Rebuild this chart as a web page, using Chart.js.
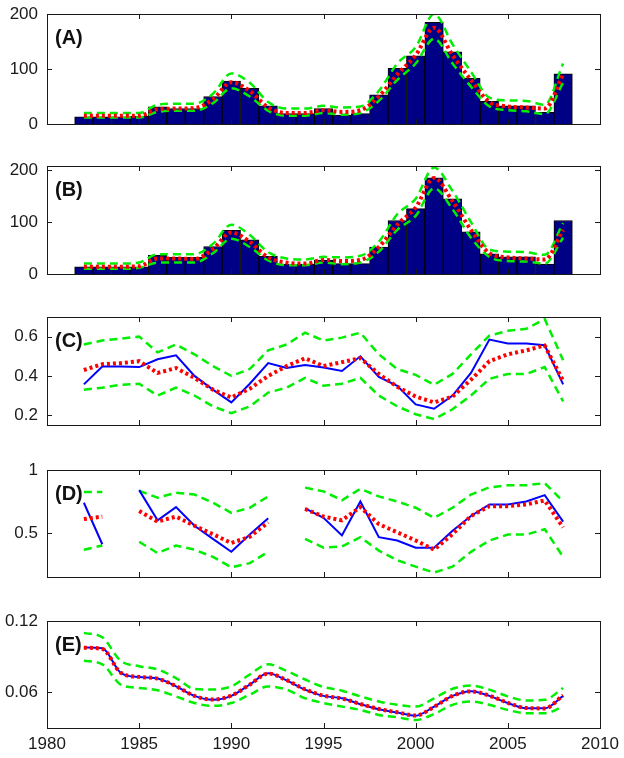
<!DOCTYPE html>
<html>
<head>
<meta charset="utf-8">
<title>Panels A-E, 1982-2008</title>
<script src="https://cdn.jsdelivr.net/npm/chart.js@4.4.0/dist/chart.umd.min.js"></script>
<style>
  html, body { margin: 0; padding: 0; background: #fff; }
  #wrap { position: relative; width: 624px; height: 758px; overflow: hidden; }
  #wrap canvas { position: absolute; left: 0; }
</style>
</head>
<body>
<div id="wrap">
  <canvas id="panelA" width="624" height="134" style="top:2px"></canvas>
  <canvas id="panelB" width="624" height="132" style="top:154px"></canvas>
  <canvas id="panelC" width="624" height="132" style="top:305px"></canvas>
  <canvas id="panelD" width="624" height="131" style="top:458px"></canvas>
  <canvas id="panelE" width="624" height="149" style="top:609px"></canvas>
</div>
<script>
// --- data ---
const years = [1982, 1983, 1984, 1985, 1986, 1987, 1988, 1989, 1990, 1991, 1992, 1993, 1994,
               1995, 1996, 1997, 1998, 1999, 2000, 2001, 2002, 2003, 2004, 2005, 2006, 2007, 2008];
const xTicks = [1980, 1985, 1990, 1995, 2000, 2005, 2010];
const xTickLabels = ['1980', '1985', '1990', '1995', '2000', '2005', '2010'];

// (A) observed counts (bars), fit (red dotted), bounds (green dashed)
const countsA = [13, 13, 13, 14, 31, 28, 28, 50, 78, 65, 33, 19, 19, 28, 16, 19, 53, 101, 124, 185, 131, 83, 41, 33, 33, 21, 91];
const fitA    = [15, 15, 15, 15, 27, 28, 29, 45, 76, 60, 30, 20, 20, 25, 22, 25, 50, 90, 125, 175, 125, 80, 40, 32, 30, 28, 90];
const upperA  = [20, 20, 20, 20, 35, 37, 37, 55, 92, 75, 40, 28, 28, 33, 30, 32, 60, 110, 140, 200, 145, 95, 48, 43, 42, 35, 110];
const lowerA  = [12, 12, 12, 12, 22, 24, 24, 38, 65, 50, 24, 15, 15, 20, 17, 20, 42, 80, 110, 155, 110, 68, 32, 25, 23, 18, 75];
const yTicksA = [0, 100, 200];
const yLabelsA = ['0', '100', '200'];

// (B)
const countsB = [14, 14, 14, 14, 36, 32, 32, 53, 84, 66, 34, 19, 19, 27, 20, 20, 52, 103, 126, 185, 145, 81, 39, 33, 33, 19, 103];
const fitB    = [14, 14, 14, 15, 30, 30, 29, 48, 80, 62, 32, 22, 20, 27, 25, 27, 52, 95, 128, 185, 140, 85, 40, 32, 30, 28, 85];
const upperB  = [20, 20, 20, 22, 38, 38, 38, 58, 95, 75, 42, 30, 28, 33, 32, 35, 62, 115, 145, 205, 160, 100, 47, 43, 42, 37, 98];
const lowerB  = [10, 10, 10, 12, 22, 22, 22, 40, 68, 52, 26, 17, 17, 22, 19, 22, 43, 85, 112, 165, 125, 70, 33, 25, 24, 20, 70];
const yTicksB = [0, 100, 200];
const yLabelsB = ['0', '100', '200'];

// (C) blue = observed, red = fit
const blueC  = [0.357, 0.448, 0.448, 0.445, 0.485, 0.505, 0.40, 0.33, 0.265, 0.36, 0.465, 0.44, 0.455, 0.443, 0.425, 0.50, 0.395, 0.35, 0.255, 0.233, 0.30, 0.415, 0.585, 0.565, 0.565, 0.556, 0.357];
const redC   = [0.43, 0.46, 0.465, 0.475, 0.415, 0.44, 0.39, 0.33, 0.29, 0.335, 0.40, 0.45, 0.49, 0.45, 0.47, 0.49, 0.41, 0.345, 0.295, 0.265, 0.295, 0.38, 0.475, 0.51, 0.53, 0.555, 0.375];
const upperC = [0.56, 0.58, 0.59, 0.60, 0.52, 0.56, 0.51, 0.45, 0.40, 0.435, 0.53, 0.56, 0.62, 0.58, 0.595, 0.62, 0.51, 0.435, 0.405, 0.355, 0.41, 0.51, 0.605, 0.63, 0.64, 0.69, 0.48];
const lowerC = [0.33, 0.34, 0.355, 0.36, 0.30, 0.34, 0.30, 0.245, 0.21, 0.245, 0.315, 0.34, 0.39, 0.35, 0.36, 0.39, 0.30, 0.245, 0.205, 0.18, 0.23, 0.30, 0.385, 0.41, 0.41, 0.445, 0.27];
const yTicksC = [0.2, 0.4, 0.6];
const yLabelsC = ['0.2', '0.4', '0.6'];

// (D) gaps in 1984 and 1993
const blueD  = [0.74, 0.41, null, 0.84, 0.60, 0.705, 0.557, 0.453, 0.35, 0.487, 0.617, null, 0.695, 0.62, 0.48, 0.75, 0.466, 0.44, 0.383, 0.383, 0.518, 0.635, 0.726, 0.726, 0.75, 0.80, 0.59];
const redD   = [0.61, 0.63, null, 0.675, 0.59, 0.63, 0.557, 0.49, 0.42, 0.47, 0.583, null, 0.69, 0.63, 0.60, 0.705, 0.57, 0.505, 0.44, 0.367, 0.49, 0.635, 0.713, 0.713, 0.727, 0.758, 0.544];
const upperD = [0.825, 0.825, null, 0.835, 0.78, 0.82, 0.805, 0.74, 0.66, 0.70, 0.79, null, 0.86, 0.83, 0.76, 0.85, 0.79, 0.75, 0.70, 0.62, 0.70, 0.805, 0.862, 0.878, 0.878, 0.896, 0.75];
const lowerD = [0.367, 0.40, null, 0.43, 0.34, 0.40, 0.367, 0.31, 0.227, 0.26, 0.35, null, 0.453, 0.383, 0.393, 0.466, 0.36, 0.284, 0.232, 0.185, 0.232, 0.35, 0.44, 0.487, 0.487, 0.53, 0.31];
const yTicksD = [0.5, 1];
const yLabelsD = ['0.5', '1'];

// (E)
const blueE  = [0.0978, 0.097, 0.0765, 0.0728, 0.0717, 0.065, 0.057, 0.0537, 0.057, 0.0665, 0.076, 0.070, 0.0623, 0.057, 0.055, 0.050, 0.0458, 0.043, 0.0404, 0.048, 0.057, 0.061, 0.057, 0.051, 0.0466, 0.0466, 0.057];
const redE   = [0.0975, 0.0965, 0.0765, 0.073, 0.0715, 0.0652, 0.057, 0.054, 0.0572, 0.0665, 0.0758, 0.0702, 0.0625, 0.0572, 0.0548, 0.0502, 0.046, 0.0432, 0.0405, 0.0478, 0.057, 0.0608, 0.0572, 0.0512, 0.0468, 0.0465, 0.0575];
const upperE = [0.110, 0.1063, 0.0865, 0.082, 0.0793, 0.072, 0.0628, 0.0623, 0.065, 0.075, 0.0836, 0.078, 0.0708, 0.0645, 0.0614, 0.0566, 0.0523, 0.0495, 0.048, 0.055, 0.063, 0.0657, 0.0623, 0.0566, 0.0532, 0.0537, 0.0637];
const lowerE = [0.0865, 0.0836, 0.0665, 0.0637, 0.0617, 0.0566, 0.051, 0.0486, 0.051, 0.058, 0.065, 0.0623, 0.055, 0.051, 0.048, 0.0452, 0.041, 0.039, 0.0367, 0.0418, 0.0495, 0.0523, 0.0495, 0.0452, 0.0424, 0.0424, 0.048];
const yTicksE = [0.06, 0.12];
const yLabelsE = ['0.06', '0.12'];

Chart.defaults.font.family = '"Liberation Sans", Arial, sans-serif';
Chart.defaults.color = '#1a1a1a';

const pts = arr => years.map((yr, i) => ({ x: yr, y: arr[i] }));

// matlab-style box: frame on all four sides, ticks pointing inward, panel letter
const frameTicks = {
    id: 'frameTicks',
    afterDraw(chart, args, opts) {
        const { ctx, chartArea: a, scales: { x, y } } = chart;
        ctx.save();
        ctx.strokeStyle = '#1a1a1a';
        ctx.lineWidth = 1;
        ctx.beginPath();
        xTicks.forEach(v => {
            const px = Math.round(x.getPixelForValue(v)) + 0.5;
            ctx.moveTo(px, a.top); ctx.lineTo(px, a.top + 5);
            ctx.moveTo(px, a.bottom); ctx.lineTo(px, a.bottom - 5);
        });
        opts.yTicks.forEach(v => {
            const py = Math.round(y.getPixelForValue(v)) + 0.5;
            ctx.moveTo(a.left, py); ctx.lineTo(a.left + 5, py);
            ctx.moveTo(a.right, py); ctx.lineTo(a.right - 5, py);
        });
        ctx.stroke();
        ctx.strokeRect(Math.round(a.left) + 0.5, Math.round(a.top) + 0.5,
                       Math.round(a.right - a.left), Math.round(a.bottom - a.top));
        ctx.fillStyle = '#111';
        ctx.font = 'bold 20px "Liberation Sans", Arial, sans-serif';
        ctx.textBaseline = 'alphabetic';
        ctx.fillText(opts.label, a.left + 8, a.top + 30);
        ctx.restore();
    }
};

function lineSet(arr, kind, smooth) {
    const base = { type: 'line', data: pts(arr), pointRadius: 0, fill: false, spanGaps: false };
    if (smooth) base.cubicInterpolationMode = 'monotone';
    if (kind === 'red') return { ...base, borderColor: '#ff0000', borderWidth: 4, borderDash: [3, 3], order: 0 };
    if (kind === 'blue') return { ...base, borderColor: '#0000ff', borderWidth: 2, order: 1 };
    return { ...base, borderColor: '#00ee00', borderWidth: 2.5, borderDash: [8, 5], order: 2 };
}

function makePanel(id, cfg) {
    const showX = !!cfg.showX;
    return new Chart(document.getElementById(id), {
        type: cfg.bars ? 'bar' : 'line',
        data: { datasets: cfg.datasets },
        options: {
            responsive: false,
            animation: false,
            events: [],
            layout: { padding: { top: 12, right: 24, bottom: showX ? 0 : 12, left: 0 } },
            plugins: {
                legend: { display: false },
                tooltip: { enabled: false },
                frameTicks: { label: cfg.label, yTicks: cfg.yTicks }
            },
            scales: {
                x: {
                    type: 'linear',
                    min: 1980,
                    max: 2010,
                    offset: false,
                    display: showX,
                    grid: { display: false, drawTicks: false },
                    border: { display: false },
                    afterBuildTicks: s => { s.ticks = xTicks.map(v => ({ value: v })); },
                    afterFit: s => { s.height = showX ? 30 : 0; s.paddingLeft = 0; s.paddingRight = 0; },
                    ticks: {
                        padding: 6,
                        maxRotation: 0,
                        autoSkip: false,
                        font: { size: 17 },
                        callback: (v, i) => xTickLabels[i]
                    }
                },
                y: {
                    type: 'linear',
                    min: cfg.yMin,
                    max: cfg.yMax,
                    grid: { display: false, drawTicks: false },
                    border: { display: false },
                    afterBuildTicks: s => { s.ticks = cfg.yTicks.map(v => ({ value: v })); },
                    afterFit: s => { s.width = 47; s.paddingTop = 0; s.paddingBottom = 0; },
                    ticks: {
                        padding: 9,
                        font: { size: 17 },
                        callback: (v, i) => cfg.yLabels[i]
                    }
                }
            }
        },
        plugins: [frameTicks]
    });
}

function barSet(arr) {
    return {
        type: 'bar',
        data: pts(arr),
        backgroundColor: 'rgb(0, 0, 135)',
        borderColor: '#000',
        borderWidth: 1,
        barPercentage: 1,
        categoryPercentage: 1,
        order: 3
    };
}

makePanel('panelA', {
    label: '(A)', bars: true, yMin: 0, yMax: 200, yTicks: yTicksA, yLabels: yLabelsA,
    datasets: [lineSet(fitA, 'red', true), lineSet(upperA, 'green', true), lineSet(lowerA, 'green', true), barSet(countsA)]
});

makePanel('panelB', {
    label: '(B)', bars: true, yMin: 0, yMax: 208, yTicks: yTicksB, yLabels: yLabelsB,
    datasets: [lineSet(fitB, 'red', true), lineSet(upperB, 'green', true), lineSet(lowerB, 'green', true), barSet(countsB)]
});

makePanel('panelC', {
    label: '(C)', yMin: 0.15, yMax: 0.7, yTicks: yTicksC, yLabels: yLabelsC,
    datasets: [lineSet(redC, 'red'), lineSet(blueC, 'blue'), lineSet(upperC, 'green'), lineSet(lowerC, 'green')]
});

makePanel('panelD', {
    label: '(D)', yMin: 0.15, yMax: 1, yTicks: yTicksD, yLabels: yLabelsD,
    datasets: [lineSet(redD, 'red'), lineSet(blueD, 'blue'), lineSet(upperD, 'green'), lineSet(lowerD, 'green')]
});

makePanel('panelE', {
    label: '(E)', showX: true, yMin: 0.03, yMax: 0.12, yTicks: yTicksE, yLabels: yLabelsE,
    datasets: [lineSet(redE, 'red', true), lineSet(blueE, 'blue', true), lineSet(upperE, 'green', true), lineSet(lowerE, 'green', true)]
});
</script>
</body>
</html>
